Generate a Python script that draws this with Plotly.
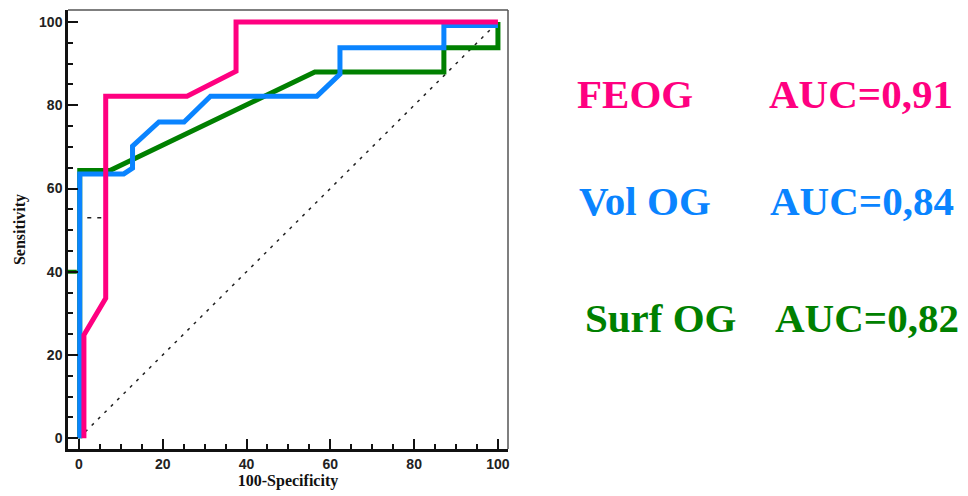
import plotly.graph_objects as go

# ---- data ----
feog_x = [1.2, 1.2, 6.4, 6.4, 25.8, 37.5, 37.5, 100]
feog_y = [0, 24.8, 33.6, 82.2, 82.2, 88.2, 100, 100]

vol_x = [0.2, 0.2, 10.7, 12.8, 12.8, 19.1, 25.1, 31.4, 56.8, 62.3, 62.3, 87.1, 87.1, 100]
vol_y = [0, 63.5, 63.5, 64.9, 70.2, 76.0, 76.0, 82.2, 82.2, 87.5, 93.8, 93.8, 99.2, 99.2]

surf_x = [0.2, 0.2, 7.4, 56.3, 87.1, 87.1, 100, 100]
surf_y = [0, 64.3, 64.3, 88.0, 88.0, 93.8, 93.8, 100]

diag_x = [0, 100]
diag_y = [0, 100]

stub_x = [-2.6, -0.5]
stub_y = [40, 40]
mark_x = [2.0, 5.7]
mark_y = [53, 53]

series_names = ["FEOG", "Vol OG", "Surf OG"]
auc_labels = ["AUC=0,91", "AUC=0,84", "AUC=0,82"]
colors = ["#FF0080", "#0A84FF", "#008000"]

tick_vals = [0, 20, 40, 60, 80, 100]
tick_text = ["0", "20", "40", "60", "80", "100"]

OFF = 8  # page body margin
W, H = 968 - OFF, 496 - OFF

fig = go.Figure()

fig.add_trace(go.Scatter(x=diag_x, y=diag_y, mode="lines",
                         line=dict(color="#222222", width=1.5, dash="3px,6px"),
                         hoverinfo="skip"))
fig.add_trace(go.Scatter(x=mark_x, y=mark_y, mode="lines",
                         line=dict(color="#222222", width=1.5, dash="4px,6px"),
                         hoverinfo="skip"))
fig.add_trace(go.Scatter(x=stub_x, y=stub_y, mode="lines", cliponaxis=False,
                         line=dict(color=colors[2], width=4), hoverinfo="skip"))
fig.add_trace(go.Scatter(x=surf_x, y=surf_y, mode="lines", name=series_names[2],
                         line=dict(color=colors[2], width=5)))
fig.add_trace(go.Scatter(x=vol_x, y=vol_y, mode="lines", name=series_names[1],
                         line=dict(color=colors[1], width=5)))
fig.add_trace(go.Scatter(x=feog_x, y=feog_y, mode="lines", name=series_names[0],
                         line=dict(color=colors[0], width=5)))

tickfont = dict(family="Liberation Sans", size=14, color="#222222", weight="bold")
axis_common = dict(
    tickmode="array", tickvals=tick_vals, ticktext=tick_text,
    ticks="inside", ticklen=10, tickwidth=2, tickcolor="#111111",
    minor=dict(dtick=5, ticks="inside", ticklen=5, tickwidth=2, tickcolor="#111111"),
    showline=True, linecolor="#111111", linewidth=2.5,
    showgrid=False, zeroline=False, tickfont=tickfont,
)

fig.update_xaxes(range=[-2.6, 102.4], **axis_common,
                 title=dict(text="100-Specificity", standoff=3,
                            font=dict(family="Liberation Serif", size=16, color="#111111", weight="bold")))
fig.update_yaxes(range=[-2.6, 102.9], **axis_common,
                 title=dict(text="Sensitivity", standoff=10,
                            font=dict(family="Liberation Serif", size=16, color="#111111", weight="bold")))

# top and right frame lines (thinner, grey)
fig.add_shape(type="line", xref="x domain", yref="y domain", x0=0, x1=1, y0=1, y1=1,
              line=dict(color="#555555", width=1.5))
fig.add_shape(type="line", xref="x domain", yref="y domain", x0=1, x1=1, y0=0, y1=1,
              line=dict(color="#555555", width=1.5))

# legend-like text block (positions in reference pixels)
name_x = [575, 577, 583]
auc_x = [767, 768, 773]
row_y = [94, 201, 318]
L, R, T, B = 68, 508, 10, 449
for i in range(3):
    for txt, px in ((series_names[i], name_x[i]), (auc_labels[i], auc_x[i])):
        fig.add_annotation(
            x=(px - L) / (R - L), y=1 - (row_y[i] - T) / (B - T),
            xref="paper", yref="paper", xanchor="left", yanchor="middle",
            text=txt, showarrow=False,
            font=dict(family="Liberation Serif", size=41, color=colors[i], weight="bold"),
        )

fig.update_layout(
    width=W, height=H,
    margin=dict(l=L - OFF, r=968 - R, t=T - OFF, b=496 - B),
    paper_bgcolor="white", plot_bgcolor="white",
    showlegend=False,
)

fig.write_html("out.html")
